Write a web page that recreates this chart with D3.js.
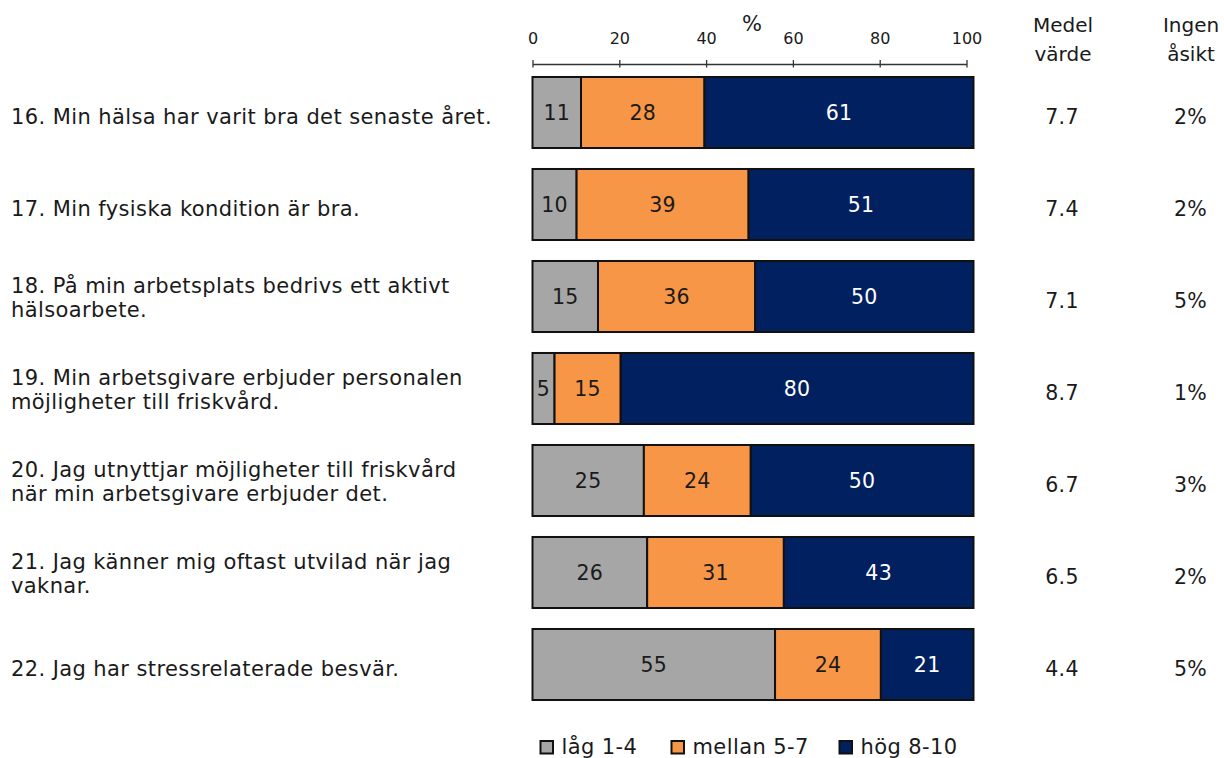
<!DOCTYPE html>
<html><head><meta charset="utf-8">
<script src="https://cdn.jsdelivr.net/npm/d3@7"></script>
<style>
html,body{margin:0;padding:0;background:#fff;}
svg text{font-family:"DejaVu Sans",Verdana,sans-serif;fill:#1a1a1a;}
</style></head>
<body>
<svg id="chart" width="1224" height="758"></svg>
<script>
const categories = [
  ["16. Min hälsa har varit bra det senaste året."],
  ["17. Min fysiska kondition är bra."],
  ["18. På min arbetsplats bedrivs ett aktivt", "hälsoarbete."],
  ["19. Min arbetsgivare erbjuder personalen", "möjligheter till friskvård."],
  ["20. Jag utnyttjar möjligheter till friskvård", "när min arbetsgivare erbjuder det."],
  ["21. Jag känner mig oftast utvilad när jag", "vaknar."],
  ["22. Jag har stressrelaterade besvär."]
];
const seriesNames = ["låg 1-4", "mellan 5-7", "hög 8-10"];
const lag    = [11, 10, 15, 5, 25, 26, 55];
const mellan = [28, 39, 36, 15, 24, 31, 24];
const hog    = [61, 51, 50, 80, 50, 43, 21];
const medelvarde = ["7.7", "7.4", "7.1", "8.7", "6.7", "6.5", "4.4"];
const ingenAsikt = ["2%", "2%", "5%", "1%", "3%", "2%", "5%"];
const tickValues = [0, 20, 40, 60, 80, 100];

const colors = ["#A6A6A6", "#F79646", "#002060"];
const textColors = ["#1a1a1a", "#1a1a1a", "#ffffff"];

const svg = d3.select("#chart");
const ids = categories.map((d, i) => i);

const xBar = d3.scaleLinear().domain([0, 100]).range([532.5, 973.5]);
const xAxis = d3.scaleLinear().domain([0, 100]).range([532.5, 966.5]);
const y = d3.scaleBand().domain(ids).range([66.5, 710.5])
  .paddingInner(0.228).paddingOuter(0.114);

// Axis
const ax = svg.append("g").attr("transform", "translate(0,64)")
  .call(d3.axisTop(xAxis).tickValues(tickValues).tickSize(4).tickSizeOuter(0));
ax.select(".domain").attr("stroke", "#333").attr("stroke-width", 1.3);
ax.selectAll(".tick line").attr("stroke", "#333").attr("stroke-width", 1.3).attr("y1", 3.5).attr("y2", -4);
ax.selectAll(".tick text").attr("y", -20).attr("dy", null)
  .style("font-size", "16px").style("font-family", '"DejaVu Sans",Verdana,sans-serif').attr("fill", "#1a1a1a");
svg.append("text").attr("x", xAxis(50) + 2.5).attr("y", 31).attr("text-anchor", "middle")
  .style("font-size", "21px").text("%");

// Bars
const rows = ids.map(i => {
  const vals = [lag[i], mellan[i], hog[i]];
  const total = d3.sum(vals);
  let cum = 0;
  return vals.map((v, k) => {
    const s = { row: i, k, v, x0: cum / total * 100, x1: (cum + v) / total * 100 };
    cum += v;
    return s;
  });
});
const segs = rows.flat();
svg.append("g").selectAll("rect").data(segs).join("rect")
  .attr("x", d => xBar(d.x0)).attr("width", d => xBar(d.x1) - xBar(d.x0))
  .attr("y", d => y(d.row)).attr("height", y.bandwidth())
  .attr("fill", d => colors[d.k]).attr("stroke", "#111").attr("stroke-width", 2);
svg.append("g").selectAll("text").data(segs).join("text")
  .attr("x", d => (xBar(d.x0) + xBar(d.x1)) / 2)
  .attr("y", d => y(d.row) + y.bandwidth() / 2 + 7.5)
  .attr("text-anchor", "middle").style("font-size", "20.5px").style("letter-spacing", "0.3px")
  .style("fill", d => textColors[d.k]).text(d => d.v);

// Category labels
const lab = svg.append("g").selectAll("text").data(ids).join("text")
  .attr("x", 11).style("font-size", "21px").style("letter-spacing", "0.4px");
lab.each(function(i) {
  const c = y(i) + y.bandwidth() / 2;
  const lines = categories[i];
  const t = d3.select(this);
  if (lines.length === 1) {
    t.append("tspan").attr("x", 11).attr("y", c + 11).text(lines[0]);
  } else {
    t.append("tspan").attr("x", 11).attr("y", c - 3.5).text(lines[0]);
    t.append("tspan").attr("x", 11).attr("y", c + 20).text(lines[1]);
  }
});

// Value columns
const colMedel = 1062, colIngen = 1190.5;
svg.append("g").selectAll("text").data(ids).join("text")
  .attr("x", colMedel).attr("y", i => y(i) + y.bandwidth() / 2 + 11)
  .attr("text-anchor", "middle").style("font-size", "20.5px").style("letter-spacing", "0.3px").text(i => medelvarde[i]);
svg.append("g").selectAll("text").data(ids).join("text")
  .attr("x", colIngen).attr("y", i => y(i) + y.bandwidth() / 2 + 11)
  .attr("text-anchor", "middle").style("font-size", "20.5px").style("letter-spacing", "0.3px").text(i => ingenAsikt[i]);

// Headers
const headers = [[1063, "Medel", "värde"], [1191, "Ingen", "åsikt"]];
headers.forEach(h => {
  svg.append("text").attr("x", h[0]).attr("y", 31.5).attr("text-anchor", "middle").style("font-size", "20px").text(h[1]);
  svg.append("text").attr("x", h[0]).attr("y", 60.5).attr("text-anchor", "middle").style("font-size", "20px").text(h[2]);
});

// Legend
const legX = [540.5, 671.5, 839.5];
const leg = svg.append("g").selectAll("g").data(seriesNames).join("g")
  .attr("transform", (d, i) => `translate(${legX[i]},741)`);
leg.append("rect").attr("width", 12.5).attr("height", 12.5)
  .attr("fill", (d, i) => colors[i]).attr("stroke", "#111").attr("stroke-width", 2);
leg.append("text").attr("x", 21).attr("y", 12.5).style("font-size", "21px").style("letter-spacing", "0.4px").text(d => d);
</script>
</body></html>
